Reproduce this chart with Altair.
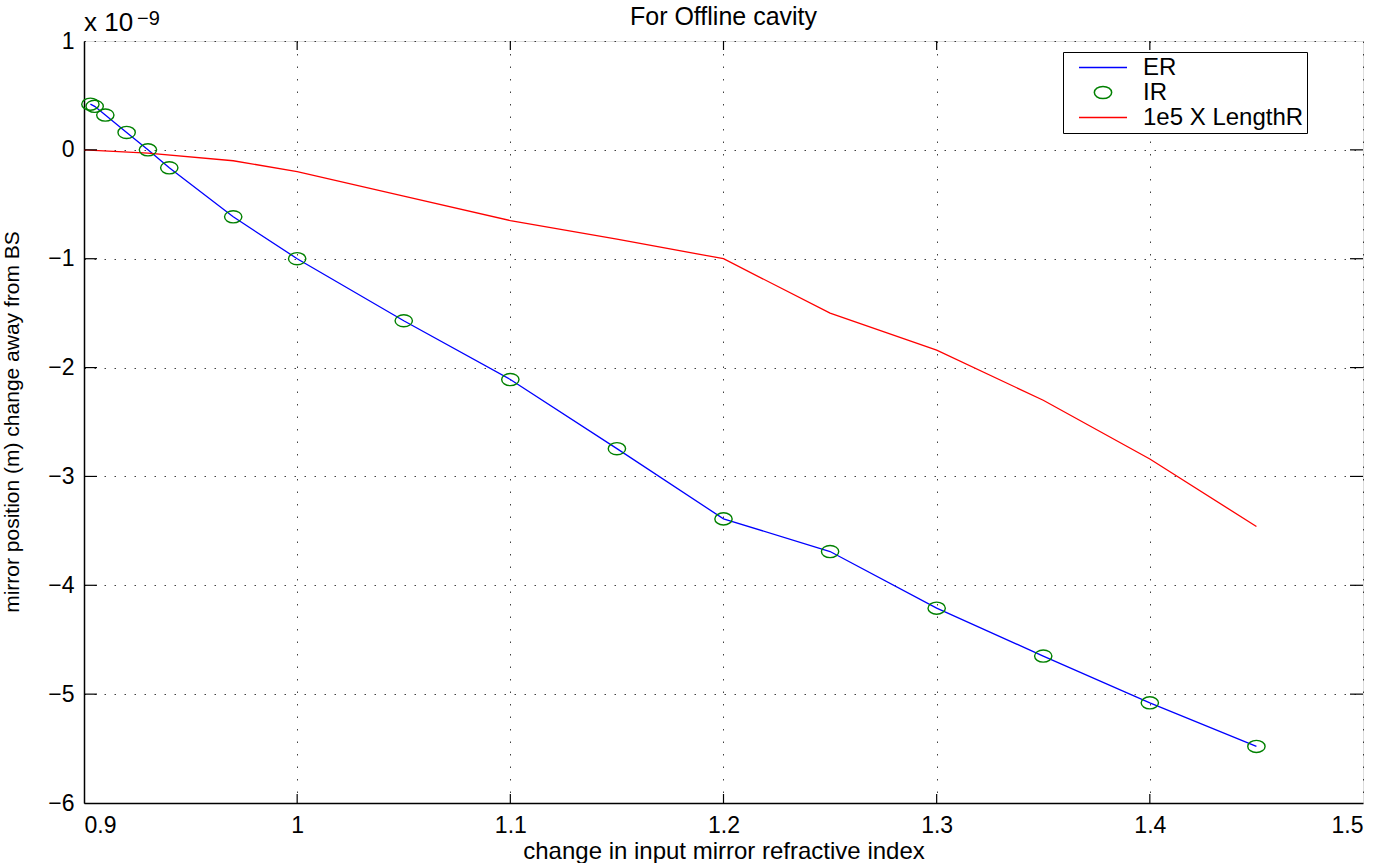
import altair as alt
import pandas as pd

# ---- data (y values in units of 1e-9 m) ----
er_x = [0.903, 0.905, 0.91, 0.92, 0.93, 0.94, 0.97, 1.0, 1.05, 1.1, 1.15, 1.2, 1.25, 1.3, 1.35, 1.4, 1.45]
er_y = [0.42, 0.40, 0.32, 0.16, 0.0, -0.165, -0.615, -1.0, -1.57, -2.11, -2.745, -3.39, -3.69, -4.21, -4.65, -5.08, -5.48]
ir_x = [0.903, 0.905, 0.91, 0.92, 0.93, 0.94, 0.97, 1.0, 1.05, 1.1, 1.15, 1.2, 1.25, 1.3, 1.35, 1.4, 1.45]
ir_y = [0.42, 0.40, 0.32, 0.16, 0.0, -0.165, -0.615, -1.0, -1.57, -2.11, -2.745, -3.39, -3.69, -4.21, -4.65, -5.08, -5.48]
len_x = [0.9, 0.93, 0.97, 1.0, 1.05, 1.1, 1.15, 1.2, 1.25, 1.3, 1.35, 1.4, 1.45]
len_y = [0.0, -0.03, -0.10, -0.20, -0.425, -0.65, -0.82, -1.0, -1.5, -1.84, -2.3, -2.84, -3.46]

series_names = ["ER", "IR", "1e5 X LengthR"]
series_colors = ["#0000ff", "#008000", "#ff0000"]

x_tick_values = [0.9, 1.0, 1.1, 1.2, 1.3, 1.4, 1.5]
y_tick_values = [-6, -5, -4, -3, -2, -1, 0, 1]
x_inner_ticks = [1.0, 1.1, 1.2, 1.3, 1.4]
y_inner_ticks = [-5, -4, -3, -2, -1, 0]

title_text = "For Offline cavity"
x_title = "change in input mirror refractive index"
y_title = "mirror position (m) change away from BS"

FONT = "Liberation Sans"
W, H = 1279, 762

lines_df = pd.concat([
    pd.DataFrame({"x": er_x, "y": er_y, "series": "ER"}),
    pd.DataFrame({"x": len_x, "y": len_y, "series": "1e5 X LengthR"}),
])
points_df = pd.DataFrame({"x": ir_x, "y": ir_y, "series": "IR"})
xt_df = pd.DataFrame({"x": x_inner_ticks})
yt_df = pd.DataFrame({"y": y_inner_ticks})

xscale = alt.Scale(domain=[0.9, 1.5], nice=False, zero=False)
yscale = alt.Scale(domain=[-6, 1], nice=False, zero=False)

xaxis = alt.Axis(
    values=x_tick_values, format="~g", title=x_title,
    grid=True, gridColor="black", gridDash=[1.5, 11], gridOpacity=0.75, gridWidth=1,
    ticks=False, domainColor="black", domainWidth=1.5,
    labelFont=FONT, labelFontSize=23, labelColor="black", labelPadding=11,
    titleFont=FONT, titleFontSize=24, titleFontWeight="normal", titleColor="black",
    titleY=55, titleBaseline="alphabetic",
)
yaxis = alt.Axis(
    values=y_tick_values, format="~g", title=None,
    grid=True, gridColor="black", gridDash=[1.5, 8.5], gridOpacity=0.75, gridWidth=1,
    ticks=False, domainColor="black", domainWidth=1.5,
    labelFont=FONT, labelFontSize=23, labelColor="black", labelPadding=10,
)

X = alt.X("x:Q", scale=xscale, axis=xaxis)
Y = alt.Y("y:Q", scale=yscale, axis=yaxis)

ellipse = "M-1,0A1,0.7,0,1,0,1,0A1,0.7,0,1,0,-1,0Z"

legend = alt.Legend(
    title=None, orient="none", legendX=979, legendY=11,
    strokeColor="black", fillColor="white", padding=3,
    symbolStrokeWidth=1.5, symbolFillColor="transparent", symbolOpacity=1,
    clipHeight=25, rowPadding=0, symbolOffset=12, labelOffset=15, labelLimit=500,
    labelFont=FONT, labelFontSize=24, labelColor="black",
)
C = alt.Color("series:N", scale=alt.Scale(domain=series_names, range=series_colors), legend=legend)
S = alt.Shape("series:N", scale=alt.Scale(domain=series_names, range=["stroke", ellipse, "stroke"]), legend=legend)
Z = alt.Size("series:N", scale=alt.Scale(type="ordinal", domain=series_names, range=[2304, 300, 2304]), legend=legend)

lines = alt.Chart(lines_df).mark_line(strokeWidth=1.3).encode(x=X, y=Y, color=C, detail="series:N")
points = alt.Chart(points_df).mark_point(filled=False, strokeWidth=1.4, opacity=1).encode(
    x=X, y=Y, color=C, shape=S, size=Z
)

tick_top = alt.Chart(xt_df).mark_rule(color="black", strokeWidth=1.2).encode(x=X, y=alt.value(0), y2=alt.value(9))
tick_bot = alt.Chart(xt_df).mark_rule(color="black", strokeWidth=1.2).encode(x=X, y=alt.value(H), y2=alt.value(H - 9))
tick_left = alt.Chart(yt_df).mark_rule(color="black", strokeWidth=1.2).encode(y=Y, x=alt.value(0), x2=alt.value(13))
tick_right = alt.Chart(yt_df).mark_rule(color="black", strokeWidth=1.2).encode(y=Y, x=alt.value(W), x2=alt.value(W - 13))

def label(txt, x, y, size, angle=0, align="left"):
    return alt.Chart(pd.DataFrame({"t": [txt]})).mark_text(
        font=FONT, fontSize=size, align=align, baseline="alphabetic", color="black", angle=angle
    ).encode(x=alt.value(x), y=alt.value(y), text="t:N")

exp_base = label("x 10", 0, -10, 26)
exp_sup = label("\u22129", 53, -16, 20)
title_mark = label(title_text, W / 2, -16, 25, align="center")
ytitle_mark = label(y_title, -65, H / 2, 21, angle=270, align="center")

chart = alt.layer(lines, points, tick_top, tick_bot, tick_left, tick_right,
                  exp_base, exp_sup, title_mark, ytitle_mark).properties(
    width=W, height=H,
    padding={"left": 84, "top": 41, "right": 35, "bottom": 60},
    autosize=alt.AutoSizeParams(type="none"),
).configure_view(stroke="black", strokeWidth=1.5).configure(background="white")

chart.save("out.html", embed_options={"renderer": "svg", "actions": False})
